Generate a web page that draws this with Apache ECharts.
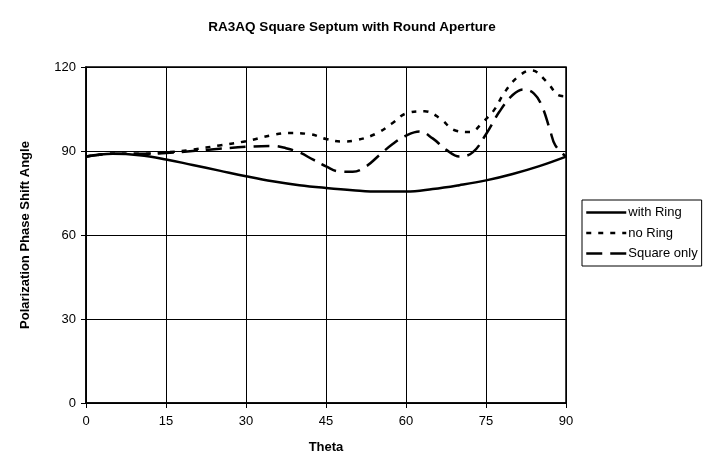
<!DOCTYPE html>
<html><head><meta charset="utf-8">
<script src="https://cdn.jsdelivr.net/npm/echarts@6/dist/echarts.min.js"></script>
<style>html,body{margin:0;padding:0;background:#fff}#c{width:704px;height:469px}</style>
</head><body><div id="c"></div>
<script>
var xTicks = [0, 15, 30, 45, 60, 75, 90];
var yTicks = [0, 30, 60, 90, 120];
var withRingTheta = [0, 5, 10, 15, 20, 25, 30, 35, 40, 45, 50, 55, 60, 65, 70, 75, 80, 85, 90];
var withRing = [88, 89, 88.5, 87, 85, 83, 81, 79.2, 77.8, 76.8, 76, 75.5, 75.5, 76.4, 77.8, 79.5, 81.8, 84.6, 88];
var noRingTheta = [0, 5, 10, 15, 20, 25, 30, 35, 38, 42, 45, 48, 51, 54.5, 57.5, 60, 63.5, 66.5, 69, 72, 74.5, 76.5, 78.5, 81, 83.5, 86.5, 88.5, 90];
var noRing = [88, 89, 89, 89.5, 90.5, 92, 93.5, 95.7, 96.4, 96, 94.3, 93.4, 94, 96.3, 100, 103.4, 104.2, 101.5, 97.5, 96.8, 100.5, 104.6, 111, 116.5, 118.8, 114.5, 110, 109.5];
var squareTheta = [0, 5, 10, 15, 20, 25, 30, 35, 37.5, 40, 42.5, 45, 47.5, 50, 52.5, 55, 57.5, 60, 62.5, 65, 67.5, 70, 72.5, 75, 77.5, 80, 82, 84, 85.5, 87, 88, 90];
var squareOnly = [88, 89, 89, 89.3, 90, 90.8, 91.5, 91.8, 91, 89.5, 87, 84.5, 82.7, 82.6, 84.5, 88.5, 92.5, 95.5, 97, 94.5, 90.5, 88, 89.5, 96, 104, 110, 112, 110.5, 106, 97.5, 92, 88];

function pairs(xs, ys){ return xs.map(function(x,i){ return [x, ys[i]]; }); }
var font = 'Liberation Sans, Arial, sans-serif';
var chart = echarts.init(document.getElementById('c'), null, {renderer:'canvas'});
chart.setOption({
  animation: false,
  backgroundColor: '#fff',
  title: { text: 'RA3AQ Square Septum with Round Aperture', left: 'center', top: 15,
    textStyle: { fontFamily: font, fontSize: 13.5, fontWeight: 'bold', color: '#000' } },
  grid: { left: 86, right: 138, top: 67, bottom: 66, show: true, borderColor: '#000', borderWidth: 1.5 },
  legend: {
    orient: 'vertical', left: 582, top: 200, itemWidth: 40, itemHeight: 14, itemGap: 7.5,
    padding: [6, 4, 6, 3], borderColor: '#000', borderWidth: 1, backgroundColor: '#fff',
    itemStyle: { opacity: 0 },
    lineStyle: { width: 2.5 },
    textStyle: { fontFamily: font, fontSize: 13, color: '#000', padding: [0,0,0,-3] },
    data: ['with Ring', 'no Ring', 'Square only']
  },
  xAxis: {
    type: 'value', min: 0, max: 90, interval: 15,
    name: 'Theta', nameLocation: 'middle', nameGap: 38,
    nameTextStyle: { fontFamily: font, fontSize: 13, fontWeight: 'bold', color: '#000' },
    axisLine: { show: true, lineStyle: { color: '#000', width: 1.5 } },
    axisTick: { show: true, length: 5, inside: false, lineStyle: { color: '#000' } },
    axisLabel: { fontFamily: font, fontSize: 13, color: '#000', margin: 12,
      formatter: function(v){ return xTicks.indexOf(v) >= 0 ? String(v) : ''; } },
    splitLine: { show: true, lineStyle: { color: '#000', width: 1 } }
  },
  yAxis: {
    type: 'value', min: 0, max: 120, interval: 30,
    name: 'Polarization Phase Shift Angle', nameLocation: 'middle', nameGap: 54,
    nameTextStyle: { fontFamily: font, fontSize: 13, fontWeight: 'bold', color: '#000' },
    axisLine: { show: true, lineStyle: { color: '#000', width: 1.5 } },
    axisTick: { show: true, length: 5, lineStyle: { color: '#000' } },
    axisLabel: { fontFamily: font, fontSize: 13, color: '#000', margin: 10,
      formatter: function(v){ return yTicks.indexOf(v) >= 0 ? String(v) : ''; } },
    splitLine: { show: true, lineStyle: { color: '#000', width: 1 } }
  },
  series: [
    { name: 'with Ring', type: 'line', smooth: 0.4, symbol: 'none', data: pairs(withRingTheta, withRing),
      lineStyle: { color: '#000', width: 2.5, type: 'solid' }, itemStyle: { color: '#000' } },
    { name: 'no Ring', type: 'line', smooth: 0.4, symbol: 'none', data: pairs(noRingTheta, noRing),
      lineStyle: { color: '#000', width: 2.5, type: [5, 7] }, itemStyle: { color: '#000' } },
    { name: 'Square only', type: 'line', smooth: 0.4, symbol: 'none', data: pairs(squareTheta, squareOnly),
      lineStyle: { color: '#000', width: 2.5, type: [16, 8] }, itemStyle: { color: '#000' } }
  ]
});
</script></body></html>
